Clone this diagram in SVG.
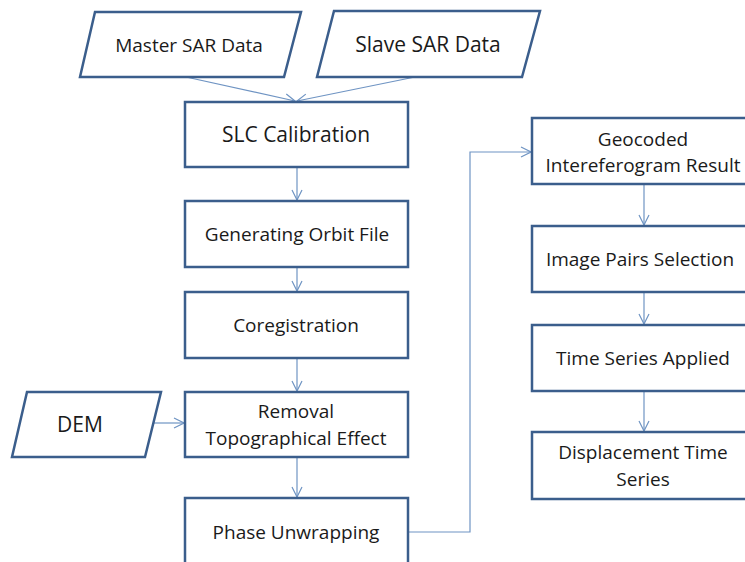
<svg xmlns="http://www.w3.org/2000/svg" width="745" height="562" viewBox="0 0 745 562">
<style>
.box{fill:#fff;stroke:#3B5E8C;stroke-width:2.5}
.t{font-family:"Open Sans",sans-serif;font-size:19px;fill:#1a1a1a;text-anchor:middle}
.tl{font-size:21px}
.c{fill:none;stroke:#6F94C3;stroke-width:1.2}
</style>
<defs>
<marker id="a" viewBox="0 0 12 12" refX="11" refY="6" markerWidth="12" markerHeight="12" markerUnits="userSpaceOnUse" orient="auto">
<path d="M1,1 L11,6 L1,11" fill="none" stroke="#6F94C3" stroke-width="1.2"/>
</marker>
</defs>
<rect width="745" height="562" fill="#fff"/>
<g id="connectors">
<path class="c" d="M186,77 L295,101" marker-end="url(#a)"/>
<path class="c" d="M415,77 L297,101" marker-end="url(#a)"/>
<path class="c" d="M297,167 L297,200" marker-end="url(#a)"/>
<path class="c" d="M297,267 L297,291" marker-end="url(#a)"/>
<path class="c" d="M297,358 L297,391" marker-end="url(#a)"/>
<path class="c" d="M297,457 L297,497" marker-end="url(#a)"/>
<path class="c" d="M153,423 L184,423" marker-end="url(#a)"/>
<path class="c" d="M408,532 L470,532 L470,152 L531,152" marker-end="url(#a)"/>
<path class="c" d="M644,184 L644,225" marker-end="url(#a)"/>
<path class="c" d="M644,292 L644,324" marker-end="url(#a)"/>
<path class="c" d="M644,391 L644,431" marker-end="url(#a)"/>
</g>
<g id="master">
<polygon class="box" points="95,12 301,12 284,77 80,77"/>
<text class="t" x="189" y="52">Master SAR Data</text>
</g>
<g id="slave">
<polygon class="box" points="334,11 540,11 522,77 317,77"/>
<text class="t tl" x="428" y="52">Slave SAR Data</text>
</g>
<g id="slc">
<rect class="box" x="185" y="102" width="223" height="65"/>
<text class="t tl" x="296" y="142">SLC Calibration</text>
</g>
<g id="orbit">
<rect class="box" x="185" y="201" width="223" height="66"/>
<text class="t" x="297" y="241">Generating Orbit File</text>
</g>
<g id="coreg">
<rect class="box" x="185" y="292" width="223" height="66"/>
<text class="t" x="296" y="332">Coregistration</text>
</g>
<g id="dem">
<polygon class="box" points="27,392 161,392 145,457 12,457"/>
<text class="t tl" x="80" y="432">DEM</text>
</g>
<g id="removal">
<rect class="box" x="185" y="392" width="223" height="65"/>
<text class="t" x="296" y="418">Removal</text>
<text class="t" x="296" y="445">Topographical Effect</text>
</g>
<g id="phase">
<rect class="box" x="185" y="498" width="223" height="70"/>
<text class="t" x="296" y="539">Phase Unwrapping</text>
</g>
<g id="geocoded">
<rect class="box" x="532" y="118" width="224" height="66"/>
<text class="t" x="643" y="146">Geocoded</text>
<text class="t" x="643" y="172">Intereferogram Result</text>
</g>
<g id="pairs">
<rect class="box" x="532" y="226" width="224" height="66"/>
<text class="t" x="640" y="266">Image Pairs Selection</text>
</g>
<g id="timeseries">
<rect class="box" x="532" y="325" width="224" height="66"/>
<text class="t" x="643" y="365">Time Series Applied</text>
</g>
<g id="displacement">
<rect class="box" x="532" y="432" width="224" height="67"/>
<text class="t" x="643" y="459">Displacement Time</text>
<text class="t" x="643" y="486">Series</text>
</g>
</svg>
